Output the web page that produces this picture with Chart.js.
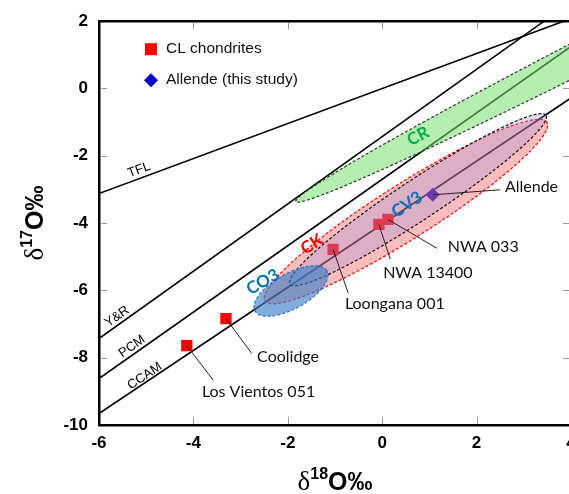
<!DOCTYPE html>
<html>
<head>
<meta charset="utf-8">
<script src="https://cdn.jsdelivr.net/npm/chart.js@4.4.1/dist/chart.umd.min.js"></script>
<style>
  html, body { margin: 0; padding: 0; background: #fff; overflow: hidden; }
  #wrap { width: 600px; height: 494px; }
</style>
</head>
<body>
<div id="wrap"><canvas id="chart" width="600" height="494"></canvas></div>
<script>
// --- Data ---
const xTicks = [-6, -4, -2, 0, 2, 4];
const yTicks = [-10, -8, -6, -4, -2, 0, 2];

// CL chondrites (d18O, d17O)
const clNames = ['Los Vientos 051', 'Coolidge', 'Loongana 001', 'NWA 13400', 'NWA 033'];
const clD18 = [-4.14, -3.31, -1.04, -0.07, 0.12];
const clD17 = [-7.64, -6.84, -4.78, -4.04, -3.89];

// Allende (this study)
const allendeD18 = [1.07];
const allendeD17 = [-3.16];

const lineNames = ['TFL', 'Y&R', 'PCM', 'CCAM'];
const lineStart = [[-6, -3.12], [-6, -7.43], [-6, -8.62], [-6, -9.66]];
const lineEnd = [[4, 2.08], [3.43, 2.0], [4, 1.25], [4, -0.28]];

// group fields as ellipses: centre, major semi-axis vector, minor semi-axis vector (data units)
const fieldNames = ['CR', 'CK', 'CV3', 'CO3'];
const fieldCentre = [[5.46, 1.84], [0.504, -3.658], [0.758, -3.304], [-1.932, -6.018]];
const fieldMajor = [[-7.29, -5.20], [2.987, 2.655], [2.712, 2.507], [0.76, 0.60]];
const fieldMinor = [[-0.165, 0.43], [-0.31, 0.68], [-0.235, 0.50], [-0.19, 0.45]];

// --- Annotation anchors (data units) ---
const lineLabelAt = [[-5.15, -2.42], [-5.62, -6.78], [-5.30, -7.67], [-5.03, -8.55]];
const fieldLabelAt = [[0.76, -1.42], [-1.49, -4.63], [0.525, -3.45], [-2.53, -5.75]];
// sample labels: leader line end, text start
const sampleLabels = [
    { text: 'Los Vientos 051', from: [-4.14, -7.64], to: [-3.58, -8.67], at: [-3.82, -9.0] },
    { text: 'Coolidge', from: [-3.31, -6.84], to: [-2.76, -7.88], at: [-2.65, -7.96] },
    { text: 'Loongana 001', from: [-1.04, -4.78], to: [-0.72, -6.08], at: [-0.79, -6.40] },
    { text: 'NWA 13400', from: [-0.07, -4.04], to: [0.17, -5.07], at: [0.02, -5.49] },
    { text: 'NWA 033', from: [0.12, -3.89], to: [1.16, -4.75], at: [1.39, -4.72] },
    { text: 'Allende', from: [1.07, -3.16], to: [2.50, -3.01], at: [2.60, -2.92] }
];

// --- Styles ---
const fieldStyle = {
    CR:  { fill: 'rgba(120, 225, 110, 0.55)', stroke: '#333', text: '#00b050' },
    CK:  { fill: 'rgba(255, 50, 50, 0.32)', stroke: '#ff0000', text: '#ff0000' },
    CV3: { fill: 'rgba(150, 150, 220, 0.33)', stroke: '#111', text: '#0070c0' },
    CO3: { fill: 'rgba(50, 125, 200, 0.62)', stroke: '#2e75b6', text: '#0070c0' }
};
const SANS = '"Liberation Sans", Arial, sans-serif';
const LABEL = 'Lato, "Open Sans", sans-serif';

const toXY = (xs, ys) => xs.map((v, i) => ({ x: v, y: ys[i] }));

const datasets = [
    {
        label: 'CL chondrites',
        data: toXY(clD18, clD17),
        pointStyle: 'rect',
        pointRadius: 8,
        backgroundColor: 'rgb(255, 0, 0)',
        borderWidth: 0,
        showLine: false,
        legend: true
    },
    {
        label: 'Allende (this study)',
        data: toXY(allendeD18, allendeD17),
        pointStyle: 'rectRot',
        pointRadius: 7,
        backgroundColor: 'rgb(0, 0, 205)',
        borderWidth: 0,
        showLine: false,
        legend: true
    }
];
lineNames.forEach((name, i) => {
    datasets.push({
        label: name,
        data: [{ x: lineStart[i][0], y: lineStart[i][1] }, { x: lineEnd[i][0], y: lineEnd[i][1] }],
        showLine: true,
        borderColor: '#000',
        borderWidth: 1.6,
        pointRadius: 0
    });
});

// --- Drawing helpers ---
function drawField(ctx, xs, ys, i) {
    const st = fieldStyle[fieldNames[i]];
    const [cx, cy] = fieldCentre[i], [ux, uy] = fieldMajor[i], [vx, vy] = fieldMinor[i];
    ctx.beginPath();
    for (let k = 0; k <= 180; k++) {
        const t = k / 180 * 2 * Math.PI;
        const px = xs.getPixelForValue(cx + ux * Math.cos(t) + vx * Math.sin(t));
        const py = ys.getPixelForValue(cy + uy * Math.cos(t) + vy * Math.sin(t));
        if (k === 0) ctx.moveTo(px, py); else ctx.lineTo(px, py);
    }
    ctx.closePath();
    ctx.fillStyle = st.fill;
    ctx.fill();
    ctx.setLineDash([3, 2]);
    ctx.lineWidth = 1.2;
    ctx.strokeStyle = st.stroke;
    ctx.stroke();
    ctx.setLineDash([]);
}

function rotatedText(ctx, text, px, py, angle, font, color) {
    ctx.save();
    ctx.translate(px, py);
    ctx.rotate(angle);
    ctx.font = font;
    ctx.fillStyle = color;
    ctx.textAlign = 'center';
    ctx.textBaseline = 'middle';
    ctx.fillText(text, 0, 0);
    ctx.restore();
}

// delta title: δ, superscript mass number, O‰ ; centred on x=0, baseline y=0
function deltaTitle(ctx, mass) {
    const fD = '27px "Liberation Serif", serif';
    const fS = 'bold 16px ' + SANS;
    const fO = 'bold 25px ' + SANS;
    ctx.font = fD; const wD = ctx.measureText('δ').width;
    ctx.font = fS; const wS = ctx.measureText(mass).width;
    ctx.font = fO; const wO = ctx.measureText('O‰').width;
    let x = -(wD + wS + wO) / 2;
    ctx.fillStyle = '#000';
    ctx.textAlign = 'left';
    ctx.textBaseline = 'alphabetic';
    ctx.font = fD; ctx.fillText('δ', x, 0); x += wD;
    ctx.font = fS; ctx.fillText(mass, x, -11); x += wS;
    ctx.font = fO; ctx.fillText('O‰', x, 0);
}

const decorPlugin = {
    id: 'decor',
    afterDatasetsDraw(chart) {
        const { ctx, chartArea: a, scales: { x, y } } = chart;
        ctx.save();
        ctx.beginPath();
        ctx.rect(a.left, a.top, a.right - a.left, a.bottom - a.top);
        ctx.clip();
        fieldNames.forEach((name, i) => drawField(ctx, x, y, i));

        // leader lines and sample names
        ctx.strokeStyle = '#222';
        ctx.lineWidth = 1;
        sampleLabels.forEach(s => {
            ctx.beginPath();
            ctx.moveTo(x.getPixelForValue(s.from[0]), y.getPixelForValue(s.from[1]));
            ctx.lineTo(x.getPixelForValue(s.to[0]), y.getPixelForValue(s.to[1]));
            ctx.stroke();
            ctx.font = '16px ' + LABEL;
            ctx.fillStyle = '#111';
            ctx.textAlign = 'left';
            ctx.textBaseline = 'middle';
            ctx.fillText(s.text, x.getPixelForValue(s.at[0]), y.getPixelForValue(s.at[1]));
        });

        // field names, rotated along each field's long axis
        fieldNames.forEach((name, i) => {
            const [ux, uy] = fieldMajor[i];
            const ang = Math.atan2(y.getPixelForValue(uy) - y.getPixelForValue(0),
                                   x.getPixelForValue(ux) - x.getPixelForValue(0));
            const a2 = ang > Math.PI / 2 ? ang - Math.PI : (ang < -Math.PI / 2 ? ang + Math.PI : ang);
            rotatedText(ctx, name, x.getPixelForValue(fieldLabelAt[i][0]), y.getPixelForValue(fieldLabelAt[i][1]),
                        a2, 'bold 17px ' + LABEL, fieldStyle[name].text);
        });

        // reference line names
        lineNames.forEach((name, i) => {
            const ang = Math.atan2(y.getPixelForValue(lineEnd[i][1]) - y.getPixelForValue(lineStart[i][1]),
                                   x.getPixelForValue(lineEnd[i][0]) - x.getPixelForValue(lineStart[i][0]));
            rotatedText(ctx, name, x.getPixelForValue(lineLabelAt[i][0]), y.getPixelForValue(lineLabelAt[i][1]),
                        ang, '13px ' + SANS, '#000');
        });
        ctx.restore();
    },
    afterDraw(chart) {
        const { ctx, chartArea: a, scales: { x, y } } = chart;
        ctx.save();
        // inward ticks on all four sides
        ctx.strokeStyle = '#9a9a9a';
        ctx.lineWidth = 1;
        xTicks.slice(1, -1).forEach(v => {
            const px = Math.round(x.getPixelForValue(v)) + 0.5;
            ctx.beginPath();
            ctx.moveTo(px, a.bottom - 1); ctx.lineTo(px, a.bottom - 8);
            ctx.moveTo(px, a.top + 1); ctx.lineTo(px, a.top + 8);
            ctx.stroke();
        });
        yTicks.slice(1, -1).forEach(v => {
            const py = Math.round(y.getPixelForValue(v)) + 0.5;
            ctx.beginPath();
            ctx.moveTo(a.left + 1, py); ctx.lineTo(a.left + 8, py);
            ctx.moveTo(a.right - 1, py); ctx.lineTo(a.right - 8, py);
            ctx.stroke();
        });
        // top and right frame
        ctx.strokeStyle = '#000';
        ctx.lineWidth = 2.5;
        ctx.beginPath();
        ctx.moveTo(a.left, a.top); ctx.lineTo(a.right, a.top); ctx.lineTo(a.right, a.bottom);
        ctx.stroke();

        // legend, inside the plot at top-left
        let ly = a.top + 28;
        chart.data.datasets.filter(d => d.legend).forEach(d => {
            const mx = a.left + 52;
            ctx.fillStyle = d.backgroundColor;
            ctx.beginPath();
            if (d.pointStyle === 'rect') {
                ctx.rect(mx - 6, ly - 6, 12, 12);
            } else {
                ctx.moveTo(mx, ly - 7); ctx.lineTo(mx + 7, ly); ctx.lineTo(mx, ly + 7); ctx.lineTo(mx - 7, ly);
                ctx.closePath();
            }
            ctx.fill();
            ctx.font = '15.5px ' + SANS;
            ctx.fillStyle = '#111';
            ctx.textAlign = 'left';
            ctx.textBaseline = 'middle';
            ctx.fillText(d.label, mx + 15, ly);
            ly += 31;
        });

        // axis titles
        ctx.save();
        ctx.translate((a.left + a.right) / 2, 490);
        deltaTitle(ctx, '18');
        ctx.restore();
        ctx.save();
        ctx.translate(43, (a.top + a.bottom) / 2);
        ctx.rotate(-Math.PI / 2);
        deltaTitle(ctx, '17');
        ctx.restore();
        ctx.restore();
    }
};

const tickFont = { family: SANS, size: 17, weight: 'bold' };

new Chart(document.getElementById('chart'), {
    type: 'scatter',
    data: { datasets: datasets },
    options: {
        responsive: false,
        animation: false,
        devicePixelRatio: 1,
        layout: { padding: { left: 0, top: 18, right: 29, bottom: 0 } },
        plugins: { legend: { display: false }, tooltip: { enabled: false } },
        scales: {
            x: {
                type: 'linear', min: -6, max: 4,
                afterBuildTicks: s => { s.ticks = xTicks.map(v => ({ value: v })); },
                afterFit: s => { s.height = 69; },
                ticks: { font: tickFont, color: '#000', padding: 8, maxRotation: 0, autoSkip: false },
                grid: { drawOnChartArea: false, drawTicks: false },
                border: { display: true, color: '#000', width: 2.5 }
            },
            y: {
                type: 'linear', min: -10, max: 2,
                afterBuildTicks: s => { s.ticks = yTicks.map(v => ({ value: v })); },
                afterFit: s => { s.width = 99; },
                ticks: { font: tickFont, color: '#000', padding: 11, autoSkip: false },
                grid: { drawOnChartArea: false, drawTicks: false },
                border: { display: true, color: '#000', width: 2.5 }
            }
        }
    },
    plugins: [decorPlugin]
});
</script>
</body>
</html>
